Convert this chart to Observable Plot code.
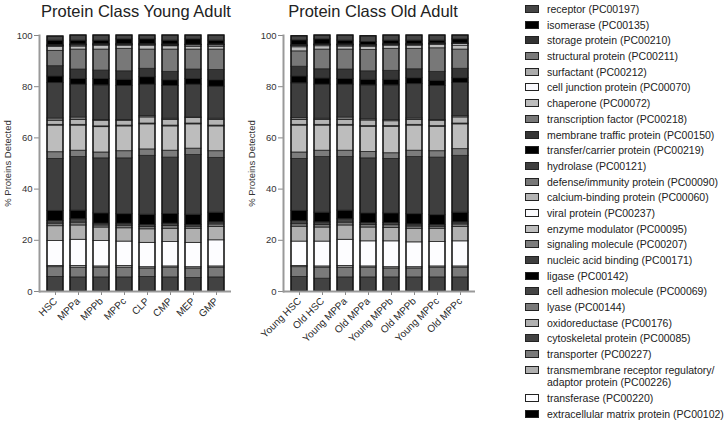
<!DOCTYPE html>
<html><head><meta charset="utf-8">
<script src="https://cdn.jsdelivr.net/npm/d3@7"></script>
<script src="https://cdn.jsdelivr.net/npm/@observablehq/plot@0.6"></script>
<style>
body{margin:0;background:#fff;font-family:"Liberation Sans",Arial,Helvetica,sans-serif;}
#wrap{position:relative;width:724px;height:422px;overflow:hidden;background:#fff;}
.title{position:absolute;top:3px;font-size:16.5px;line-height:16.5px;color:#222;text-align:center;white-space:nowrap;}
.panel{position:absolute;top:0;}
#legend{position:absolute;left:525px;top:3px;font-size:10.5px;color:#222;}
.item{display:flex;align-items:flex-start;line-height:12.5px;margin-bottom:3.2px;white-space:nowrap;}
.sw{width:14px;height:8px;border:1px solid #222;margin-top:2px;margin-right:8px;flex:none;box-sizing:border-box;}
</style></head>
<body>
<div id="wrap">
  <div class="title" style="left:36px;width:200px;">Protein Class Young Adult</div>
  <div class="title" style="left:273px;width:200px;">Protein Class Old Adult</div>
  <div class="panel" id="p1" style="left:0px"></div>
  <div class="panel" id="p2" style="left:244px"></div>
  <div id="legend"></div>
</div>
<script>
// Legend order (top to bottom)
const classes = [
  "receptor (PC00197)","isomerase (PC00135)","storage protein (PC00210)","structural protein (PC00211)",
  "surfactant (PC00212)","cell junction protein (PC00070)","chaperone (PC00072)","transcription factor (PC00218)",
  "membrane traffic protein (PC00150)","transfer/carrier protein (PC00219)","hydrolase (PC00121)",
  "defense/immunity protein (PC00090)","calcium-binding protein (PC00060)","viral protein (PC00237)",
  "enzyme modulator (PC00095)","signaling molecule (PC00207)","nucleic acid binding (PC00171)","ligase (PC00142)",
  "cell adhesion molecule (PC00069)","lyase (PC00144)","oxidoreductase (PC00176)","cytoskeletal protein (PC00085)",
  "transporter (PC00227)","transmembrane receptor regulatory/adaptor protein (PC00226)","transferase (PC00220)",
  "extracellular matrix protein (PC00102)"
];
const colors = [
  "#454545","#000000","#333333","#7a7a7a","#ababab","#f9f9fd","#bdbdbd","#787878",
  "#353535","#000000","#3e3e3e","#787878","#b4b4b4","#fbfbfd","#bdbdbd","#7c7c7c",
  "#3e3e3e","#000000","#444444","#7a7a7a","#b0b0b0","#424242","#7a7a7a","#afafaf","#fdfdff","#000000"
];
// Stacking order, bottom to top
const stackOrder = [
  "extracellular matrix protein (PC00102)","cytoskeletal protein (PC00085)","transporter (PC00227)",
  "transmembrane receptor regulatory/adaptor protein (PC00226)","transferase (PC00220)","oxidoreductase (PC00176)",
  "lyase (PC00144)","cell adhesion molecule (PC00069)","ligase (PC00142)","nucleic acid binding (PC00171)",
  "signaling molecule (PC00207)","enzyme modulator (PC00095)","viral protein (PC00237)",
  "calcium-binding protein (PC00060)","defense/immunity protein (PC00090)","hydrolase (PC00121)",
  "transfer/carrier protein (PC00219)","membrane traffic protein (PC00150)","transcription factor (PC00218)",
  "chaperone (PC00072)","cell junction protein (PC00070)","surfactant (PC00212)","structural protein (PC00211)",
  "storage protein (PC00210)","isomerase (PC00135)","receptor (PC00197)"
];
const yTicks = [0, 20, 40, 60, 80, 100];
const samplesYoung = ["HSC","MPPa","MPPb","MPPc","CLP","CMP","MEP","GMP"];
const samplesOld = ["Young HSC","Old HSC","Young MPPa","Old MPPa","Young MPPb","Old MPPb","Young MPPc","Old MPPc"];

// % proteins detected per class, listed in stackOrder (bottom to top)
const HSC  = [0.1,5.6,3.8,0.5,9.7,5.8,1.0,1.0,4.0,20.3,2.6,10.4,0.3,1.6,0.9,13.8,2.6,4.0,6.0,1.5,0.3,0.1,0.1,0.2,1.8,1.6];
const MPPa = [0.1,5.4,3.8,0.7,10.2,5.6,1.1,1.3,3.4,20.9,2.5,9.8,0.3,1.9,1.0,12.8,2.2,3.7,7.8,1.2,0.4,0.1,0.1,0.2,1.5,2.0];
const MPPb = [0.1,5.4,3.8,0.5,9.9,5.3,0.8,0.7,4.0,21.5,2.3,9.9,0.3,2.2,0.3,13.5,2.5,3.3,8.2,1.5,0.3,0.1,0.1,0.1,1.4,2.0];
const MPPc = [0.1,5.4,3.8,0.7,9.5,5.2,1.0,0.8,3.7,21.8,2.8,9.7,0.3,1.9,0.3,13.3,2.4,3.3,8.8,1.2,0.3,0.1,0.1,0.1,1.9,1.5];
const CLP  = [0.1,5.6,3.3,0.5,9.5,5.3,0.9,0.8,4.0,23.0,2.5,9.8,0.3,2.4,0.5,12.3,2.9,3.3,7.5,1.5,0.3,0.1,0.1,0.1,1.9,1.5];
const CMP  = [0.1,5.4,3.8,0.5,9.5,5.2,1.1,0.9,3.8,22.0,2.7,9.5,0.3,2.2,0.5,12.8,2.2,3.3,8.7,1.3,0.3,0.1,0.1,0.2,1.5,2.0];
const MEP  = [0.1,5.2,3.7,0.5,9.5,5.5,0.8,0.7,4.0,23.3,2.5,9.5,0.3,2.2,0.2,12.8,2.2,3.7,7.8,1.0,0.6,0.1,0.1,0.1,2.1,1.5];
const GMP  = [0.1,5.4,3.8,0.5,10.2,5.2,1.0,0.8,3.8,21.4,2.6,9.7,0.3,2.2,0.5,12.5,2.5,4.0,8.0,1.0,0.6,0.1,0.1,0.2,1.5,2.0];

const youngHSC  = [0.1,5.6,3.8,0.5,9.5,5.8,1.0,1.2,4.0,20.3,2.5,10.5,0.3,1.9,0.8,13.5,2.7,3.8,6.0,1.6,0.4,0.1,0.1,0.2,1.9,1.6];
const oldHSC    = [0.1,4.9,4.3,0.5,9.7,5.5,1.0,1.0,3.8,21.7,2.5,9.8,0.3,1.9,0.5,13.3,2.4,3.6,7.7,1.3,0.4,0.1,0.1,0.1,2.0,1.5];
const youngMPPa = [0.1,5.4,3.8,0.7,10.2,5.6,1.1,1.3,3.4,20.9,2.5,9.8,0.3,1.9,1.0,12.8,2.2,3.7,7.8,1.2,0.4,0.1,0.1,0.2,1.5,2.0];
const oldMPPa   = [0.1,5.4,3.8,0.5,9.8,5.4,1.0,0.8,3.7,21.5,2.5,9.8,0.3,2.2,0.5,13.2,2.2,3.3,8.3,1.3,0.4,0.1,0.1,0.1,1.2,2.2];
const youngMPPb = [0.1,5.4,3.5,0.5,10.1,5.2,1.1,0.9,3.7,21.3,2.2,10.3,0.3,1.9,0.5,13.5,2.2,3.5,8.6,1.2,0.3,0.1,0.1,0.1,1.4,2.0];
const oldMPPb   = [0.1,5.4,3.5,0.5,9.7,5.3,0.9,0.8,4.0,22.3,2.5,9.8,0.3,1.9,0.6,13.4,2.3,3.5,8.0,1.2,0.3,0.1,0.1,0.1,1.4,2.0];
const youngMPPc = [0.1,5.4,3.8,0.5,9.5,5.2,0.8,0.7,3.8,22.5,2.5,9.5,0.3,2.1,0.3,13.3,2.0,3.5,9.2,1.3,0.3,0.1,0.1,0.1,1.1,2.0];
const oldMPPc   = [0.1,5.4,3.8,0.5,9.8,5.6,1.0,0.8,3.8,22.2,2.6,9.7,0.3,2.4,0.5,13.0,1.8,3.7,7.5,1.5,0.6,0.1,0.1,0.1,1.6,1.5];

const youngValues = [HSC, MPPa, MPPb, MPPc, CLP, CMP, MEP, GMP];
const oldValues = [youngHSC, oldHSC, youngMPPa, oldMPPa, youngMPPb, oldMPPb, youngMPPc, oldMPPc];

function tidy(samples, values) {
  const rows = [];
  samples.forEach((s, i) => stackOrder.forEach((c, j) => rows.push({sample: s, cls: c, value: values[i][j]})));
  return rows;
}

function panel(samples, values, width) {
  const rows = tidy(samples, values);
  return Plot.plot({
    width, height: 352, marginLeft: 39, marginRight: width - 231, marginTop: 35, marginBottom: 61,
    style: {fontFamily: "Liberation Sans, Arial, Helvetica, sans-serif", fontSize: "9.5px", color: "#333", background: "transparent", overflow: "visible"},
    x: {domain: samples, paddingInner: 0.31, paddingOuter: 0.30, axis: null},
    y: {domain: [0, 100], axis: null},
    color: {domain: classes, range: colors, type: "ordinal"},
    marks: [
      Plot.barY(rows, Plot.stackY({x: "sample", y: "value", fill: "cls", order: stackOrder, stroke: "#222", strokeWidth: 0.8})),
      Plot.barY(rows, Plot.groupX({y: "sum"}, {x: "sample", y: "value", fill: "none", stroke: "#111", strokeWidth: 1.3})),
      Plot.axisY({ticks: yTicks, tickSize: 5, tickPadding: 2, stroke: "#888", fill: "#333", label: "% Proteins Detected", labelAnchor: "center", labelArrow: "none", labelOffset: 35, fontSize: 9.5}),
      Plot.axisX({tickRotate: -45, tickSize: 4, tickPadding: 4, stroke: "#888", fill: "#2a2a2a", label: null, fontSize: 10}),
      Plot.frame({anchor: "left", stroke: "#999", strokeWidth: 2}),
      Plot.ruleY([0], {stroke: "#999", strokeWidth: 2})
    ]
  });
}

document.getElementById("p1").appendChild(panel(samplesYoung, youngValues, 240));
document.getElementById("p2").appendChild(panel(samplesOld, oldValues, 240));

const legend = document.getElementById("legend");
classes.forEach((c, i) => {
  const item = document.createElement("div");
  item.className = "item";
  const sw = document.createElement("div");
  sw.className = "sw";
  sw.style.background = colors[i];
  const t = document.createElement("div");
  t.innerHTML = c.replace("regulatory/", "regulatory/<br>");
  item.appendChild(sw); item.appendChild(t);
  legend.appendChild(item);
});
</script>
</body></html>
